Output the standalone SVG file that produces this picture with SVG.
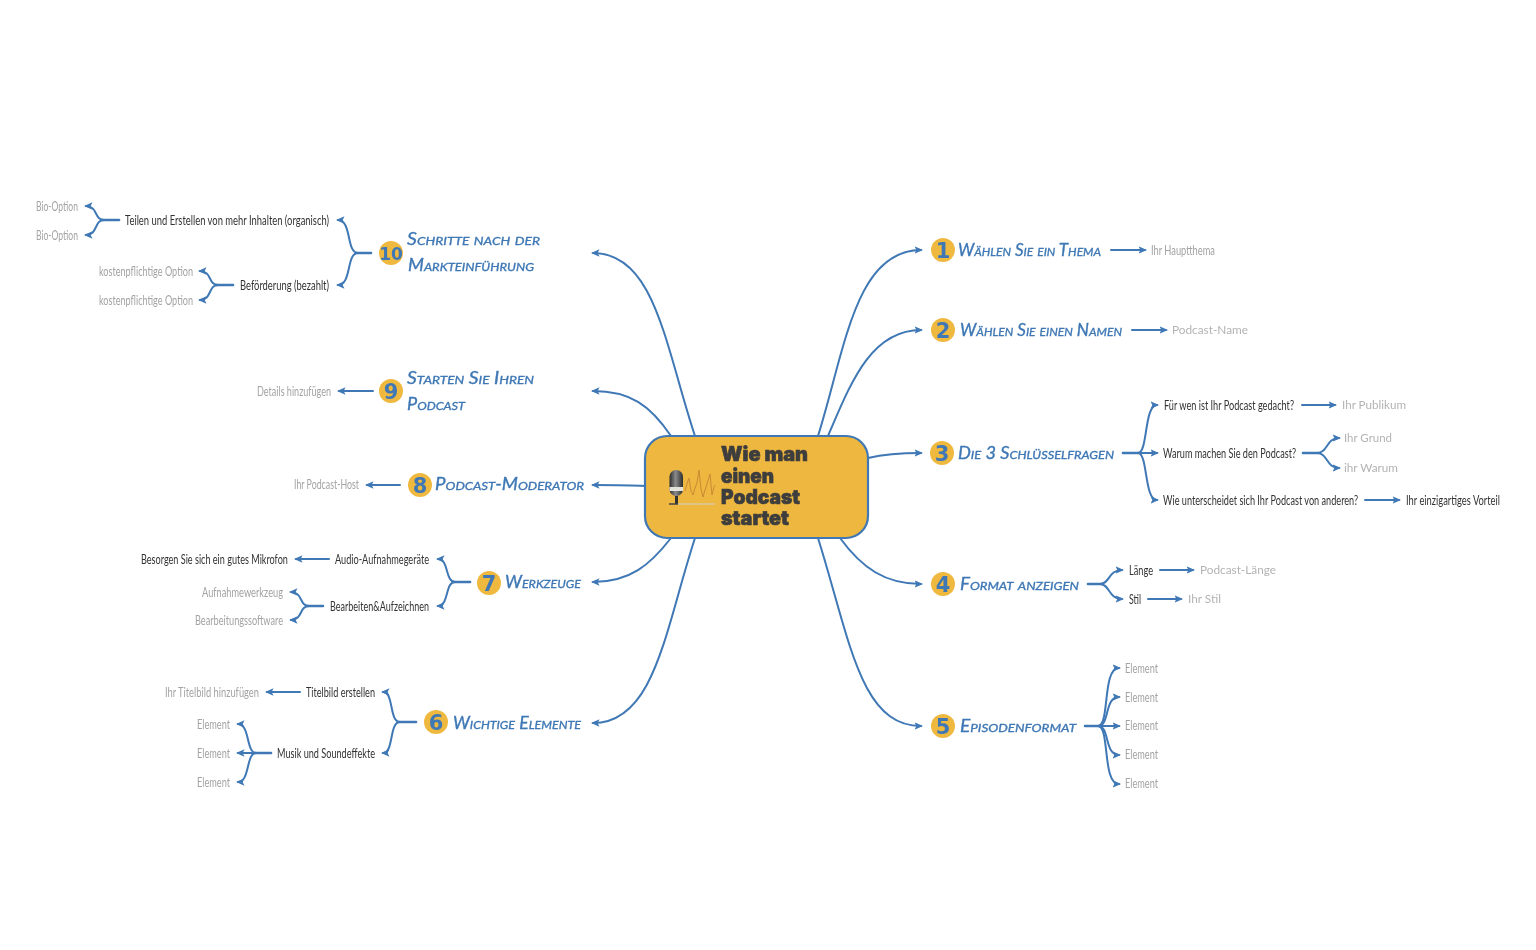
<svg xmlns="http://www.w3.org/2000/svg" width="1536" height="950" viewBox="0 0 1536 950">
<style>
text{font-family:"Lato","Liberation Sans",sans-serif}
.c{fill:none;stroke:#3f78b5;stroke-width:2;stroke-linecap:round}
.s{stroke-width:2.6}
.a{marker-end:url(#arr)}
.h{font-size:17px;font-style:italic;font-variant:small-caps;fill:#3f78b5;stroke:#3f78b5;stroke-width:.35}
.n{font-size:13px;fill:#333}
.g{font-size:13px;fill:#a3a3a3}
.w{font-size:11.5px;fill:#b3b3b3}
.b{fill:#efb93f}
.d{font-family:"DejaVu Sans",sans-serif;font-weight:700;font-size:21px;fill:#3f78b5;text-anchor:middle}
.t{font-family:"Inter","Lato",sans-serif;font-weight:900;font-size:20px;fill:#3d3d3d;stroke:#3d3d3d;stroke-width:.6}
</style>
<defs>
<marker id="arr" markerUnits="userSpaceOnUse" markerWidth="11" markerHeight="9" refX="6.500" refY="4.500" orient="auto"><path d="M0,.8 L8.500,4.500 L0,8.200 L1.800,4.500z" fill="#3f78b5"/></marker>
<filter id="soft" x="0" y="0" width="1" height="1" filterUnits="objectBoundingBox"><feGaussianBlur stdDeviation=".35"/></filter>
<linearGradient id="mic" x1="0" x2="1" y1="0" y2="0"><stop offset="0" stop-color="#2c2c2c"/><stop offset=".45" stop-color="#8a8a8a"/><stop offset="1" stop-color="#2c2c2c"/></linearGradient>
</defs>
<g filter="url(#soft)">
<rect width="1536" height="950" fill="#fff"/>
<g id="connectors">
<path class="c a" d="M818,436 C845,350 855,250 921,250"/>
<path class="c a" d="M828,436 C850,385 870,330 921,330"/>
<path class="c a" d="M868,458 C885,454 900,453 921,453"/>
<path class="c a" d="M840,538 C862,568 885,584 921,584"/>
<path class="c a" d="M818,538 C850,640 860,726 921,726"/>
<path class="c a" d="M695,436 C665,345 655,253 593,253"/>
<path class="c a" d="M671,436 C650,405 630,391 593,391"/>
<path class="c a" d="M645,486 C630,485 615,485 593,485"/>
<path class="c a" d="M671,538 C650,565 630,582 593,582"/>
<path class="c a" d="M695,538 C665,630 655,723 593,723"/>
<path class="c a" d="M1111,250 H1145"/>
<path class="c a" d="M1132,330 H1166"/>
<path class="c s" d="M1123,453 H1140"/>
<path class="c a" d="M1138,453 C1148,453 1144,405 1157,405"/>
<path class="c a" d="M1138,453 H1157"/>
<path class="c a" d="M1138,453 C1148,453 1144,500 1157,500"/>
<path class="c a" d="M1302,405 H1335"/>
<path class="c s" d="M1303,453 H1318"/>
<path class="c a" d="M1317,453 C1328,453 1326,438 1339,438"/>
<path class="c a" d="M1317,453 C1328,453 1326,468 1339,468"/>
<path class="c a" d="M1365,500 H1399"/>
<path class="c s" d="M1088,584 H1102"/>
<path class="c a" d="M1100,584 C1110,584 1108,570 1122,570"/>
<path class="c a" d="M1100,584 C1110,584 1108,599 1122,599"/>
<path class="c a" d="M1160,570 H1193"/>
<path class="c a" d="M1148,599 H1181"/>
<path class="c s" d="M1085,726 H1100"/>
<path class="c a" d="M1098,726 C1110,726 1102,668 1119,668"/>
<path class="c a" d="M1098,726 C1110,726 1104,697 1119,697"/>
<path class="c a" d="M1098,726 H1119"/>
<path class="c a" d="M1098,726 C1110,726 1104,755 1119,755"/>
<path class="c a" d="M1098,726 C1110,726 1102,784 1119,784"/>
<path class="c s" d="M371,253 H356"/>
<path class="c a" d="M358,253 C346,253 352,220 338,220"/>
<path class="c a" d="M358,253 C346,253 352,285 338,285"/>
<path class="c s" d="M119,220 H102"/>
<path class="c a" d="M104,220 C94,220 98,206 86,206"/>
<path class="c a" d="M104,220 C94,220 98,235 86,235"/>
<path class="c s" d="M233,285 H216"/>
<path class="c a" d="M218,285 C208,285 212,271 200,271"/>
<path class="c a" d="M218,285 C208,285 212,300 200,300"/>
<path class="c a" d="M373,391 H339"/>
<path class="c a" d="M400,485 H367"/>
<path class="c s" d="M470,582 H453"/>
<path class="c a" d="M455,582 C445,582 449,559 438,559"/>
<path class="c a" d="M455,582 C445,582 449,606 438,606"/>
<path class="c a" d="M329,559 H296"/>
<path class="c s" d="M323,606 H307"/>
<path class="c a" d="M309,606 C299,606 303,592 291,592"/>
<path class="c a" d="M309,606 C299,606 303,620 291,620"/>
<path class="c s" d="M416,722 H398"/>
<path class="c a" d="M400,722 C389,722 394,692 383,692"/>
<path class="c a" d="M400,722 C389,722 394,753 383,753"/>
<path class="c a" d="M300,692 H267"/>
<path class="c s" d="M271,753 H254"/>
<path class="c a" d="M256,753 C246,753 250,724 238,724"/>
<path class="c a" d="M256,753 H238"/>
<path class="c a" d="M256,753 C246,753 250,782 238,782"/>
</g>
<g id="center">
<rect x="645" y="436" width="223" height="102" rx="22" fill="#eeb73f" stroke="#3f78b5" stroke-width="2.200"/>
<rect x="669.500" y="470" width="13.500" height="26" rx="6.500" fill="url(#mic)"/>
<rect x="669.500" y="487" width="13.500" height="4" fill="#e2e2da"/>
<rect x="675" y="496" width="3" height="8" fill="#333"/>
<path d="M669,504 H678" stroke="#444" stroke-width="1.500" fill="none"/>
<path d="M678,504 H715" stroke="#d8c9a0" stroke-width="1.500" fill="none"/>
<path d="M685,491 L687,484 L689,478 L691,491 L693,495 L695,488 L697,483 L699,470 L701,489 L703,497 L705,490 L707,484 L710,474 L712,495 L714,487 L715,485" fill="none" stroke="#c98a35" stroke-width="1"/>
<text class="t" x="721" y="461" textLength="87" lengthAdjust="spacingAndGlyphs">Wie man</text>
<text class="t" x="721" y="483" textLength="53" lengthAdjust="spacingAndGlyphs">einen</text>
<text class="t" x="721" y="504" textLength="79" lengthAdjust="spacingAndGlyphs">Podcast</text>
<text class="t" x="721" y="525" textLength="68" lengthAdjust="spacingAndGlyphs">startet</text>
</g>
<g id="node1"><circle class="b" cx="943" cy="250" r="12"/><text class="d" x="943" y="258">1</text><text class="h" x="958" y="256" textLength="143" lengthAdjust="spacingAndGlyphs">Wählen Sie ein Thema</text><text class="g" x="1151" y="255" textLength="64" lengthAdjust="spacingAndGlyphs">Ihr Hauptthema</text></g>
<g id="node2"><circle class="b" cx="943" cy="330" r="12"/><text class="d" x="943" y="338">2</text><text class="h" x="960" y="336" textLength="162" lengthAdjust="spacingAndGlyphs">Wählen Sie einen Namen</text><text class="w" x="1172" y="334" textLength="76" lengthAdjust="spacingAndGlyphs">Podcast-Name</text></g>
<g id="node3"><circle class="b" cx="942" cy="453" r="12"/><text class="d" x="942" y="461">3</text><text class="h" x="958" y="459" textLength="156" lengthAdjust="spacingAndGlyphs">Die 3 Schlüsselfragen</text>
<text class="n" x="1164" y="410" textLength="130" lengthAdjust="spacingAndGlyphs">Für wen ist Ihr Podcast gedacht?</text><text class="w" x="1342" y="409" textLength="64" lengthAdjust="spacingAndGlyphs">Ihr Publikum</text>
<text class="n" x="1163" y="458" textLength="133" lengthAdjust="spacingAndGlyphs">Warum machen Sie den Podcast?</text><text class="w" x="1344" y="442" textLength="48" lengthAdjust="spacingAndGlyphs">Ihr Grund</text><text class="w" x="1344" y="472" textLength="54" lengthAdjust="spacingAndGlyphs">ihr Warum</text>
<text class="n" transform="translate(1163 505) scale(.72 1)" x="0" y="0" textLength="271" lengthAdjust="spacingAndGlyphs">Wie unterscheidet sich Ihr Podcast von anderen?</text><text class="n" x="1406" y="505" textLength="94" lengthAdjust="spacingAndGlyphs">Ihr einzigartiges Vorteil</text></g>
<g id="node4"><circle class="b" cx="943" cy="584" r="12"/><text class="d" x="943" y="592">4</text><text class="h" x="960" y="590" textLength="119" lengthAdjust="spacingAndGlyphs">Format anzeigen</text>
<text class="n" x="1129" y="575" textLength="24" lengthAdjust="spacingAndGlyphs">Länge</text><text class="w" x="1200" y="574" textLength="76" lengthAdjust="spacingAndGlyphs">Podcast-Länge</text><text class="n" x="1129" y="604" textLength="12" lengthAdjust="spacingAndGlyphs">Stil</text><text class="w" x="1188" y="603" textLength="33" lengthAdjust="spacingAndGlyphs">Ihr Stil</text></g>
<g id="node5"><circle class="b" cx="943" cy="726" r="12"/><text class="d" x="943" y="734">5</text><text class="h" x="960" y="732" textLength="116" lengthAdjust="spacingAndGlyphs">Episodenformat</text>
<text class="g" x="1125" y="673" textLength="33" lengthAdjust="spacingAndGlyphs">Element</text><text class="g" x="1125" y="702" textLength="33" lengthAdjust="spacingAndGlyphs">Element</text><text class="g" x="1125" y="730" textLength="33" lengthAdjust="spacingAndGlyphs">Element</text><text class="g" x="1125" y="759" textLength="33" lengthAdjust="spacingAndGlyphs">Element</text><text class="g" x="1125" y="788" textLength="33" lengthAdjust="spacingAndGlyphs">Element</text></g>
<g id="node6"><circle class="b" cx="436" cy="722" r="12"/><text class="d" x="436" y="730">6</text><text class="h" x="453" y="729" textLength="128" lengthAdjust="spacingAndGlyphs">Wichtige Elemente</text>
<text class="n" x="306" y="696.500" textLength="69" lengthAdjust="spacingAndGlyphs">Titelbild erstellen</text><text class="g" x="165" y="696.500" textLength="94" lengthAdjust="spacingAndGlyphs">Ihr Titelbild hinzufügen</text><text class="n" x="277" y="757.500" textLength="98" lengthAdjust="spacingAndGlyphs">Musik und Soundeffekte</text>
<text class="g" x="197" y="728.500" textLength="33" lengthAdjust="spacingAndGlyphs">Element</text><text class="g" x="197" y="757.500" textLength="33" lengthAdjust="spacingAndGlyphs">Element</text><text class="g" x="197" y="786.500" textLength="33" lengthAdjust="spacingAndGlyphs">Element</text></g>
<g id="node7"><circle class="b" cx="489" cy="583" r="12"/><text class="d" x="489" y="591">7</text><text class="h" x="505" y="588" textLength="76" lengthAdjust="spacingAndGlyphs">Werkzeuge</text>
<text class="n" x="335" y="563.500" textLength="94" lengthAdjust="spacingAndGlyphs">Audio-Aufnahmegeräte</text><text class="n" transform="translate(141 563.500) scale(.72 1)" x="0" y="0" textLength="204" lengthAdjust="spacingAndGlyphs">Besorgen Sie sich ein gutes Mikrofon</text><text class="n" x="330" y="610.500" textLength="99" lengthAdjust="spacingAndGlyphs">Bearbeiten&amp;Aufzeichnen</text><text class="g" x="202" y="597" textLength="81" lengthAdjust="spacingAndGlyphs">Aufnahmewerkzeug</text><text class="g" x="195" y="624.500" textLength="88" lengthAdjust="spacingAndGlyphs">Bearbeitungssoftware</text></g>
<g id="node8"><circle class="b" cx="420" cy="485" r="12"/><text class="d" x="420" y="493">8</text><text class="h" x="435" y="490" textLength="149" lengthAdjust="spacingAndGlyphs">Podcast-Moderator</text><text class="g" x="294" y="489" textLength="65" lengthAdjust="spacingAndGlyphs">Ihr Podcast-Host</text></g>
<g id="node9"><circle class="b" cx="391" cy="391" r="12"/><text class="d" x="391" y="399">9</text><text class="h" x="407" y="384" textLength="127" lengthAdjust="spacingAndGlyphs">Starten Sie Ihren</text><text class="h" x="407" y="410" textLength="58" lengthAdjust="spacingAndGlyphs">Podcast</text><text class="g" x="257" y="395.500" textLength="74" lengthAdjust="spacingAndGlyphs">Details hinzufügen</text></g>
<g id="node10"><circle class="b" cx="391" cy="253" r="12"/><text class="d" x="391" y="260" style="font-size:17px">10</text><text class="h" x="407" y="245" textLength="133" lengthAdjust="spacingAndGlyphs">Schritte nach der</text><text class="h" x="408" y="271" textLength="126" lengthAdjust="spacingAndGlyphs">Markteinführung</text>
<text class="n" x="125" y="224.500" textLength="204" lengthAdjust="spacingAndGlyphs">Teilen und Erstellen von mehr Inhalten (organisch)</text><text class="g" x="36" y="211" textLength="42" lengthAdjust="spacingAndGlyphs">Bio-Option</text><text class="g" x="36" y="240" textLength="42" lengthAdjust="spacingAndGlyphs">Bio-Option</text>
<text class="n" x="240" y="289.500" textLength="89" lengthAdjust="spacingAndGlyphs">Beförderung (bezahlt)</text><text class="g" x="99" y="276" textLength="94" lengthAdjust="spacingAndGlyphs">kostenpflichtige Option</text><text class="g" x="99" y="305" textLength="94" lengthAdjust="spacingAndGlyphs">kostenpflichtige Option</text></g>
</g>
</svg>
